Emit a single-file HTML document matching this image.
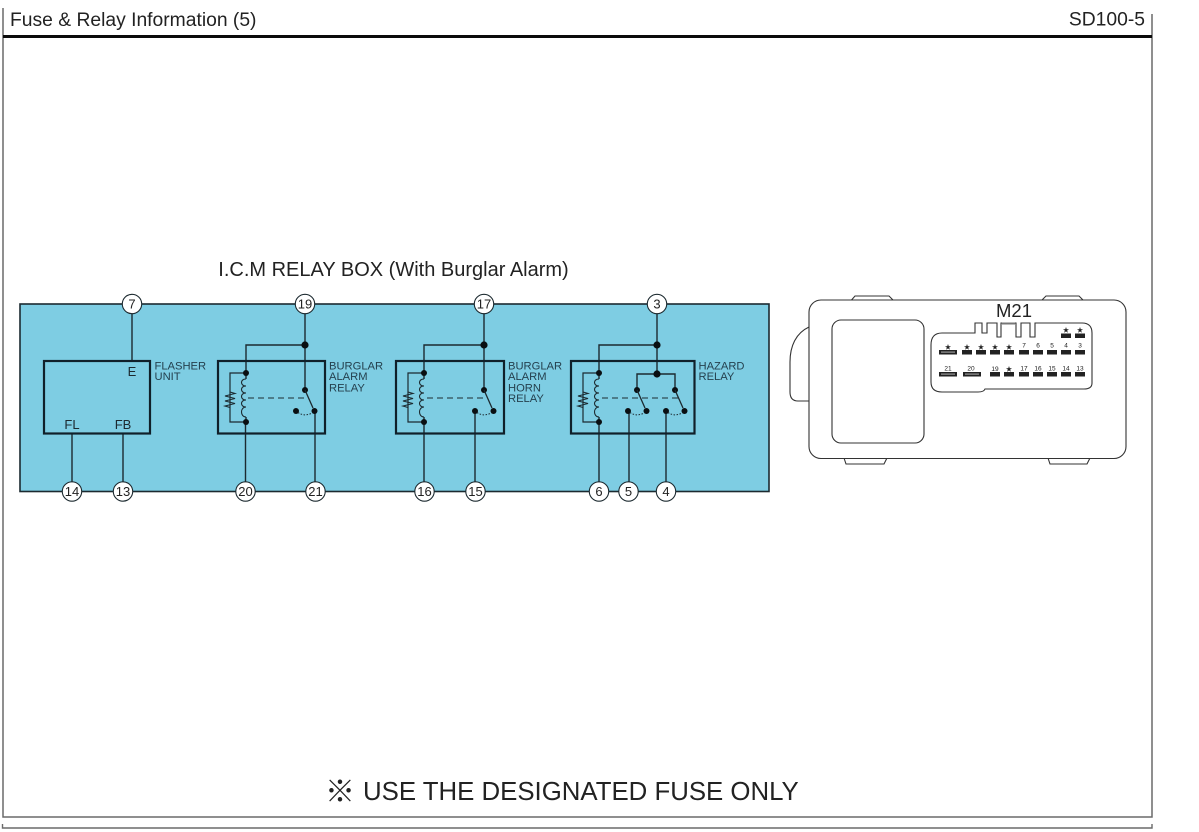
<!DOCTYPE html>
<html><head><meta charset="utf-8"><style>
html,body{margin:0;padding:0;background:#fff;width:1199px;height:832px;overflow:hidden}
svg{display:block}
text{font-family:"Liberation Sans","Noto Sans CJK JP",sans-serif}
</style></head><body>
<svg width="1199" height="832" viewBox="0 0 1199 832" xmlns="http://www.w3.org/2000/svg">
<defs>
<g id="coil">
<path d="M0,0 L0,6 M0,44 L0,49" stroke="#1c2a30" stroke-width="1.4" fill="none"/>
<path d="M0,6 C-6,6 -6,13 0,13 M0,13 C-6,13 -6,20 0,20 M0,20 C-6,20 -6,27 0,27 M0,27 C-6,27 -6,34 0,34 M0,34 C-6,34 -6,44 0,44" stroke="#1c2a30" stroke-width="1.1" fill="none"/>
<path d="M0,0 H-16 V49 H0" stroke="#1c2a30" stroke-width="1.2" fill="none"/>
<path d="M-16,19 L-11,20.5 L-21,23 L-11,25.5 L-21,28 L-11,30.5 L-21,33 L-16,34.5" stroke="#1c2a30" stroke-width="1.1" fill="none"/>
<circle cx="0" cy="0" r="3" fill="#0a0f12"/>
<circle cx="0" cy="49" r="3" fill="#0a0f12"/>
</g>
<g id="sw">
<circle cx="0" cy="0" r="3" fill="#0a0f12"/>
<circle cx="9.5" cy="21" r="3" fill="#0a0f12"/>
<circle cx="-9" cy="21" r="3" fill="#0a0f12"/>
<path d="M0,0 L8,18" stroke="#1c2a30" stroke-width="1.3" fill="none"/>
<path d="M-7,22.5 C-3,25.5 3,25.5 7,23" stroke="#1c2a30" stroke-width="1" stroke-dasharray="1.5 1.5" fill="none"/>
</g>
</defs>

<!-- page frame -->
<path d="M3,8 V817 H1152 V14" stroke="#6a6a6a" stroke-width="1.5" fill="none"/>
<path d="M2.5,824 V828 H1152 V824" stroke="#6a6a6a" stroke-width="1.4" fill="none"/>
<rect x="3" y="35" width="1149" height="3" fill="#0b0b0b"/>
<text x="10" y="26" font-size="19.300" fill="#222">Fuse &amp; Relay Information (5)</text>
<text x="1145" y="25.500" font-size="19.300" fill="#222" text-anchor="end">SD100-5</text>

<text x="393.500" y="276" font-size="20" fill="#222" text-anchor="middle">I.C.M RELAY BOX (With Burglar Alarm)</text>

<!-- blue box -->
<rect x="20" y="304" width="749" height="187.500" fill="#7ecde3" stroke="#1c2a30" stroke-width="1.6"/>

<g stroke="#1c2a30" stroke-width="1.4" fill="none">
<path d="M132,304 V361 M72,433 V491 M123,433 V491"/>
<path d="M305,304 V390 M305,345 H246 V373 M245.500,422 V491 M315,411 V491"/>
<path d="M484,304 V390 M484,345 H424 V373 M424,422 V491 M475,411 V491"/>
<path d="M657,304 V374 M657,345 H599 V373 M599,422 V491 M629,411 V491 M666,411 V491 M637,390 V374 H675 V390"/>
</g>

<!-- boxes -->
<g fill="none" stroke="#10202a" stroke-width="2.2">
<rect x="44" y="361" width="106" height="72.500"/>
<rect x="218" y="361" width="107" height="72.500"/>
<rect x="396" y="361" width="108" height="72.500"/>
<rect x="571" y="361" width="123.500" height="72.500"/>
</g>

<!-- junctions -->
<g fill="#0a0f12">
<circle cx="305" cy="345" r="3.600"/>
<circle cx="484" cy="345" r="3.600"/>
<circle cx="657" cy="345" r="3.600"/>
<circle cx="657" cy="374" r="3.600"/>
</g>

<!-- relays -->
<use href="#coil" x="246" y="373"/>
<use href="#sw" x="305" y="390"/>
<path d="M248,398 H307" stroke="#1c2a30" stroke-width="1.1" stroke-dasharray="6 4" fill="none"/>
<use href="#coil" x="424" y="373"/>
<use href="#sw" x="484" y="390"/>
<path d="M427,398 H486" stroke="#1c2a30" stroke-width="1.1" stroke-dasharray="6 4" fill="none"/>
<use href="#coil" x="599" y="373"/>
<use href="#sw" x="637" y="390"/>
<use href="#sw" x="675" y="390"/>
<path d="M602,398 H678" stroke="#1c2a30" stroke-width="1.1" stroke-dasharray="6 4" fill="none"/>

<!-- labels -->
<g font-size="11.200" fill="#25414f">
<text x="154.500" y="369.500">FLASHER</text><text x="154.500" y="380">UNIT</text>
<text x="329" y="369.500">BURGLAR</text><text x="329" y="380">ALARM</text><text x="329" y="391.500">RELAY</text>
<text x="508" y="369.500">BURGLAR</text><text x="508" y="380">ALARM</text><text x="508" y="391.500">HORN</text><text x="508" y="402">RELAY</text>
<text x="698.500" y="369.500">HAZARD</text><text x="698.500" y="380">RELAY</text>
</g>
<g font-size="13" fill="#1c2a30" text-anchor="middle">
<text x="132" y="376">E</text>
<text x="72" y="429">FL</text>
<text x="123" y="429">FB</text>
</g>

<!-- pin circles -->
<g fill="#fff" stroke="#1c2a30" stroke-width="1.100">
<circle cx="132" cy="304" r="9.700"/><circle cx="305" cy="304" r="9.700"/><circle cx="484" cy="304" r="9.700"/><circle cx="657" cy="304" r="9.700"/>
<circle cx="72" cy="491.500" r="9.700"/><circle cx="123" cy="491.500" r="9.700"/><circle cx="245.500" cy="491.500" r="9.700"/><circle cx="315.500" cy="491.500" r="9.700"/>
<circle cx="424.500" cy="491.500" r="9.700"/><circle cx="475.500" cy="491.500" r="9.700"/><circle cx="599" cy="491.500" r="9.700"/><circle cx="628.500" cy="491.500" r="9.700"/><circle cx="666" cy="491.500" r="9.700"/>
</g>
<g font-size="13" fill="#222" text-anchor="middle">
<text x="132" y="308.500">7</text><text x="305" y="308.500">19</text><text x="484" y="308.500">17</text><text x="657" y="308.500">3</text>
<text x="72" y="496">14</text><text x="123" y="496">13</text><text x="245.500" y="496">20</text><text x="315.500" y="496">21</text>
<text x="424.500" y="496">16</text><text x="475.500" y="496">15</text><text x="599" y="496">6</text><text x="628.500" y="496">5</text><text x="666" y="496">4</text>
</g>

<!-- connector housing -->
<g fill="none" stroke="#333" stroke-width="1.100">
<path d="M851.500,300 L855,296 H889 L893,300"/>
<path d="M1042,300 L1046,296 H1079 L1083,300"/>
<path d="M844,458 L846,464 H884 L887,458"/>
<path d="M1048,458 L1050,464 H1087 L1090,458"/>
<path d="M809,327 C796,333 790,346 790,362 V392 Q790,401 798,401 H809"/>
<rect x="809" y="300" width="317" height="158.500" rx="12" fill="#fff"/>
<rect x="832" y="320" width="92" height="123" rx="9"/>
<path d="M975,333 V323 H982 V333 H987 V323 H997 V337 H1001 V323 H1016 V337 H1021 V323 H1030 V337 H1035 V323 H1057 L1082,323 Q1092,323 1092,333 V383 Q1092,389 1084,389 L985,389 Q984,392 978,392 H942 Q931,392 931,382 V345 Q931,333 942,333 Z" fill="#fff"/>
<path d="M1002,323.500 H1015" stroke-width="2" stroke="#777"/>
</g>
<text x="1014" y="317" font-size="18.500" fill="#222" text-anchor="middle">M21</text>

<!-- terminals -->
<g fill="#222">
<rect x="1061" y="333.500" width="10" height="4.500"/><rect x="1075" y="333.500" width="10" height="4.500"/>
<rect x="939" y="350" width="18" height="4.500"/>
<rect x="962" y="350" width="10" height="4.500"/><rect x="976" y="350" width="10" height="4.500"/><rect x="990" y="350" width="10" height="4.500"/><rect x="1004" y="350" width="10" height="4.500"/><rect x="1019" y="350" width="10" height="4.500"/><rect x="1033" y="350" width="10" height="4.500"/><rect x="1047" y="350" width="10" height="4.500"/><rect x="1061" y="350" width="10" height="4.500"/><rect x="1075" y="350" width="10" height="4.500"/>
<rect x="939" y="372" width="18" height="4.500"/><rect x="963" y="372" width="18" height="4.500"/>
<rect x="990" y="372" width="10" height="4.500"/><rect x="1004" y="372" width="10" height="4.500"/><rect x="1019" y="372" width="10" height="4.500"/><rect x="1033" y="372" width="10" height="4.500"/><rect x="1047" y="372" width="10" height="4.500"/><rect x="1061" y="372" width="10" height="4.500"/><rect x="1075" y="372" width="10" height="4.500"/>
</g>
<g fill="#999"><rect x="941" y="351.500" width="14" height="1.200"/><rect x="941" y="373.500" width="14" height="1.200"/><rect x="965" y="373.500" width="14" height="1.200"/></g>
<g font-size="6.500" fill="#222" text-anchor="middle">
<text x="1066" y="332">★</text><text x="1080" y="332">★</text>
<text x="948" y="349">★</text><text x="967" y="349">★</text><text x="981" y="349">★</text><text x="995" y="349">★</text><text x="1009" y="349">★</text>
<text x="1024" y="347.500">7</text><text x="1038" y="347.500">6</text><text x="1052" y="347.500">5</text><text x="1066" y="347.500">4</text><text x="1080" y="347.500">3</text>
<text x="948" y="370.500">21</text><text x="971" y="370.500">20</text><text x="995" y="371">19</text><text x="1009" y="371">★</text><text x="1024" y="370.500">17</text><text x="1038" y="370.500">16</text><text x="1052" y="370.500">15</text><text x="1066" y="370.500">14</text><text x="1080" y="370.500">13</text>
</g>

<!-- footer -->
<text x="325" y="802" font-size="30" fill="#222" font-family="'Noto Sans CJK JP',sans-serif">※</text>
<text x="363" y="800" font-size="25.800" fill="#222">USE THE DESIGNATED FUSE ONLY</text>
</svg>
</body></html>
